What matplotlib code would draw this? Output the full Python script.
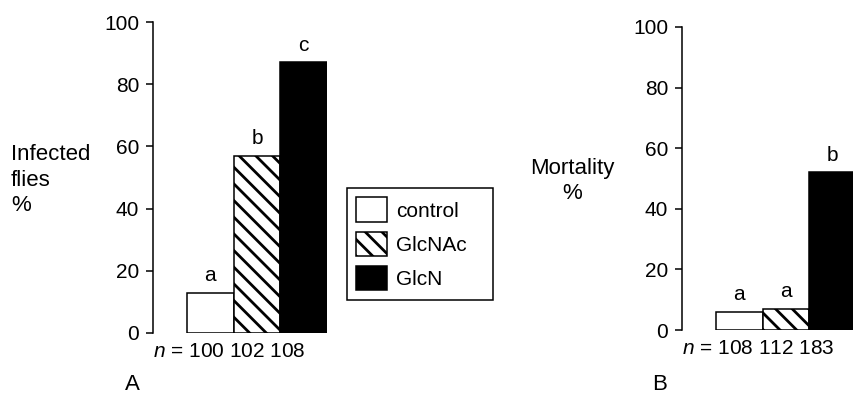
import matplotlib
matplotlib.use("Agg")
import matplotlib.pyplot as plt
from matplotlib.patches import Patch

plt.rcParams['font.family'] = ['Liberation Sans', 'DejaVu Sans']
plt.rcParams['mathtext.fontset'] = 'custom'
plt.rcParams['mathtext.rm'] = 'Liberation Sans'
plt.rcParams['mathtext.it'] = 'Liberation Sans:italic'
plt.rcParams['hatch.linewidth'] = 2.0

# data
groups = ['control', 'GlcNAc', 'GlcN']
infected = [13, 57, 87]
infected_sig = ['a', 'b', 'c']
infected_n = [100, 102, 108]
mortality = [6, 7, 52]
mortality_sig = ['a', 'a', 'b']
mortality_n = [108, 112, 183]
yticks = [0, 20, 40, 60, 80, 100]

faces = ['white', 'white', 'black']
hatches = ['', '\\\\', '']

FS = 15
W, H = 854, 394
fig = plt.figure(figsize=(W / 100, H / 100), dpi=100)


def px_axes(x0, x1, ytop, ybot):
    # axes placed in figure pixels (origin top-left)
    return fig.add_axes([x0 / W, 1 - ybot / H, (x1 - x0) / W, (ybot - ytop) / H])


def panel(ax, values, sig, nvals):
    for i, v in enumerate(values):
        ax.bar(i, v, width=1, align='edge', color=faces[i], hatch=hatches[i],
               edgecolor='black', linewidth=1.1)
        ax.text(i + 0.5, v + 2.5, sig[i], ha='center', va='bottom', fontsize=FS)
    ax.set_xlim(-0.73, 3)
    ax.set_ylim(0, 100)
    ax.set_yticks(yticks)
    ax.set_xticks([])
    for s in ['top', 'right', 'bottom']:
        ax.spines[s].set_visible(False)
    ax.spines['left'].set_linewidth(1.1)
    ax.tick_params(axis='y', length=5, width=1.1, pad=5, labelsize=FS)
    ax.patch.set_alpha(0)
    ntext = r'$\it{n}$ = ' + ' '.join(str(n) for n in nvals)
    ax.text(0.0, -0.03, ntext, transform=ax.transAxes, ha='left', va='top',
            fontsize=FS)


axA = px_axes(153, 327, 22, 333)
panel(axA, infected, infected_sig, infected_n)
axB = px_axes(682, 856, 27, 330)
panel(axB, mortality, mortality_sig, mortality_n)

fig.text(11 / W, 1 - 180 / H, 'Infected\nflies\n%', ha='left', va='center',
         fontsize=16, linespacing=1.3)
fig.text(572 / W, 1 - 181 / H, 'Mortality\n%', ha='center', va='center',
         fontsize=16, linespacing=1.3)
fig.text(132 / W, 1 - 384 / H, 'A', ha='center', va='center', fontsize=16)
fig.text(660 / W, 1 - 384 / H, 'B', ha='center', va='center', fontsize=16)

handles = [Patch(facecolor=faces[i], edgecolor='black', hatch=hatches[i],
                 linewidth=1.1, label=groups[i]) for i in range(3)]
leg = fig.legend(handles=handles, loc='upper left',
                 bbox_to_anchor=(347 / W, 1 - 192 / H, 146 / W, 0.01),
                 mode='expand', borderaxespad=0, fontsize=FS,
                 handlelength=1.45, handleheight=1.45, handletextpad=0.45,
                 labelspacing=0.45, borderpad=0.45, fancybox=False, framealpha=1)
leg.get_frame().set_edgecolor('black')
leg.get_frame().set_linewidth(1.1)

fig.savefig('out.png', dpi=100)
